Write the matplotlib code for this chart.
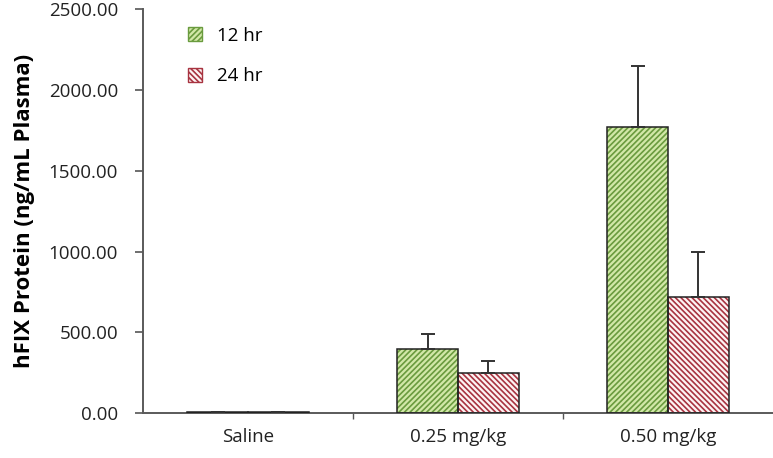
import numpy as np
import matplotlib.pyplot as plt
from matplotlib.patches import Patch

# values
groups = ['Saline', '0.25 mg/kg', '0.50 mg/kg']
series = ['12 hr', '24 hr']
mean_12hr = [10.0, 396.0, 1770.0]
err_12hr = [0.0, 93.0, 377.0]
mean_24hr = [10.0, 247.0, 718.0]
err_24hr = [0.0, 75.0, 278.0]
y_ticks = [0, 500, 1000, 1500, 2000, 2500]

GREEN_FACE = '#d2e8a8'
GREEN_HATCH = '#6a9b3e'
RED_FACE = '#fdf3f3'
RED_HATCH = '#a83340'


def main():
    plt.rcParams['font.family'] = ['Open Sans', 'DejaVu Sans']
    plt.rcParams['hatch.linewidth'] = 1.2

    fig = plt.figure(figsize=(7.73, 4.58), dpi=100)
    ax = fig.add_axes([0.185, 0.098, 0.815, 0.882])

    x = np.arange(len(groups))
    w = 0.29

    # filled hatched bars, hatch colour comes from edgecolor
    ax.bar(x - w / 2, mean_12hr, w, color=GREEN_FACE, edgecolor=GREEN_HATCH,
           hatch='//////', linewidth=0, zorder=2)
    ax.bar(x + w / 2, mean_24hr, w, color=RED_FACE, edgecolor=RED_HATCH,
           hatch='\\' * 6, linewidth=0, zorder=2)
    # outlines on top
    ax.bar(x - w / 2, mean_12hr, w, fill=False, edgecolor='#222222',
           linewidth=1.1, zorder=3)
    ax.bar(x + w / 2, mean_24hr, w, fill=False, edgecolor='#222222',
           linewidth=1.1, zorder=3)

    # upper error bars only
    ax.errorbar(x - w / 2, mean_12hr, yerr=[np.zeros(3), err_12hr], fmt='none',
                ecolor='#333333', elinewidth=1.4, capsize=5, capthick=1.4, zorder=4)
    ax.errorbar(x + w / 2, mean_24hr, yerr=[np.zeros(3), err_24hr], fmt='none',
                ecolor='#333333', elinewidth=1.4, capsize=5, capthick=1.4, zorder=4)

    ax.set_xlim(-0.5, 2.5)
    ax.set_ylim(0, 2500)
    ax.set_yticks(y_ticks)
    ax.set_yticklabels([f'{v:.2f}' for v in y_ticks], fontsize=13.5, color='#222222')

    ax.set_xticks(x)
    ax.set_xticklabels(groups, fontsize=13.5, color='#222222')
    ax.tick_params(axis='x', length=0, pad=11)
    ax.set_xticks([0.5, 1.5], minor=True)
    ax.tick_params(axis='x', which='minor', length=4, color='#555555', width=1)
    ax.tick_params(axis='y', length=6, color='#555555', width=1.2,
                   direction='out', pad=12)

    for s in ['top', 'right']:
        ax.spines[s].set_visible(False)
    for s in ['left', 'bottom']:
        ax.spines[s].set_color('#5a5a5a')
        ax.spines[s].set_linewidth(1.4)

    ax.set_ylabel('hFIX Protein (ng/mL Plasma)', fontsize=16, fontweight='bold',
                  labelpad=10)

    handles = [Patch(facecolor=GREEN_FACE, edgecolor=GREEN_HATCH, hatch='//////'),
               Patch(facecolor=RED_FACE, edgecolor=RED_HATCH, hatch='\\' * 6)]
    leg = ax.legend(handles, series, loc='upper left', bbox_to_anchor=(0.045, 0.998),
                    frameon=False, fontsize=13.5, handlelength=0.75, handleheight=0.75,
                    labelspacing=1.2, handletextpad=0.8)
    for h in leg.legend_handles:
        h.set_linewidth(1.0)

    fig.savefig('out.png', dpi=100)


if __name__ == '__main__':
    main()
